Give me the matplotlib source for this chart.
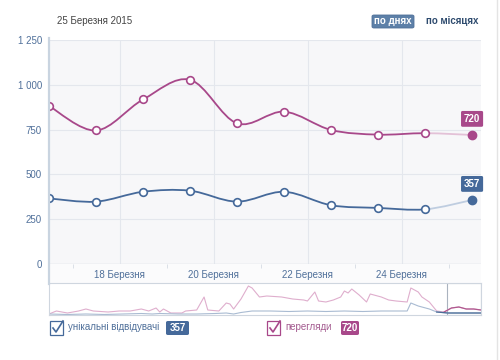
import numpy as np
import matplotlib
matplotlib.use("Agg")
import matplotlib.pyplot as plt
from matplotlib.path import Path
from matplotlib.patches import PathPatch, Rectangle, FancyBboxPatch
from matplotlib.lines import Line2D

plt.rcParams["font.family"] = ["Liberation Sans", "DejaVu Sans"]

# main chart: one point per day, x = day index (0 = 16 Березня)
days = np.arange(10)
views = [882, 745, 918, 1028, 785, 850, 748, 722, 730, 720]
visitors = [366, 348, 403, 409, 348, 403, 328, 313, 305, 357]
tick_pos = [1.5, 3.5, 5.5, 7.5]
tick_labels = ["18 Березня", "20 Березня", "22 Березня", "24 Березня"]
y_ticks = [0, 250, 500, 750, 1000, 1250]
y_labels = ["0", "250", "500", "750", "1 000", "1 250"]

# navigator (overview of the whole period)
nav_days_v = [0, 2, 5, 8, 10, 12, 16, 19, 22, 25, 27, 29, 30, 31, 33, 36, 37, 40, 42, 43,
              46, 48, 49, 50, 52, 54, 55, 57, 59, 63, 66, 69, 70, 72, 73, 75, 77, 79, 80,
              81, 82, 84, 86, 87, 90, 92, 94, 97, 98, 100, 101, 103, 105, 107, 109, 111,
              113, 115, 117]
nav_views = [120, 480, 240, 480, 720, 480, 360, 480, 480, 720, 480, 840, 360, 720, 240, 240,
             480, 600, 2160, 600, 480, 1440, 1320, 720, 1920, 3480, 3240, 2160, 2280, 2160,
             1920, 1800, 1680, 2760, 1680, 1560, 1800, 2160, 2880, 2640, 3120, 2400, 1560,
             2520, 2160, 1800, 1680, 1560, 3240, 2760, 2160, 1560, 480, 360, 840, 960, 720,
             720, 600]
nav_days_u = [0, 5, 10, 15, 20, 25, 28, 30, 35, 40, 45, 48, 50, 52, 55, 60, 65, 70, 75, 80,
              85, 90, 95, 97, 98, 100, 103, 105, 108, 112, 117]
nav_visitors = [120, 60, 120, 60, 120, 180, 120, 180, 120, 120, 180, 240, 120, 300, 480, 480,
                420, 480, 420, 480, 420, 480, 480, 480, 1440, 1080, 720, 360, 240, 240, 240]
nav_sel = (107.8, 117)

PINK = "#a8488a"
BLUE = "#45699a"
PINK_L = "#e3c1d7"
BLUE_L = "#bfcde0"
TXT = "#50709a"

W, H = 500, 360


def fx(px):
    return px / W


def fy(py):
    return 1 - py / H


def smooth_verts(x, y):
    # Catmull-Rom through the points, as cubic Bezier control points
    x = np.asarray(x, float)
    y = np.asarray(y, float)
    n = len(x)
    verts = [(x[0], y[0])]
    for i in range(n - 1):
        i0 = max(i - 1, 0)
        i3 = min(i + 2, n - 1)
        c1 = (x[i] + (x[i + 1] - x[i0]) / 6, y[i] + (y[i + 1] - y[i0]) / 6)
        c2 = (x[i + 1] - (x[i3] - x[i]) / 6, y[i + 1] - (y[i3] - y[i]) / 6)
        verts += [c1, c2, (x[i + 1], y[i + 1])]
    return np.array(verts)


def bez(verts):
    return Path(verts, [Path.MOVETO] + [Path.CURVE4] * (len(verts) - 1))


fig = plt.figure(figsize=(5, 3.6), dpi=100)
fig.patch.set_facecolor("white")

ax = fig.add_axes([fx(49), fy(264), fx(481) - fx(49), fy(40) - fy(264)])
ax.set_facecolor("#f7f7f9")
ax.set_xlim(0, 9.19)
ax.set_ylim(0, 1250)
for s in ax.spines.values():
    s.set_visible(False)
ax.set_yticks(y_ticks)
ax.set_yticklabels(y_labels)
ax.set_xticks(tick_pos)
ax.set_xticklabels(tick_labels)
ax.set_xticks(np.arange(0.5, 9.2, 1), minor=True)
ax.tick_params(axis="y", length=0, pad=5, labelsize=7, labelcolor=TXT)
ax.tick_params(axis="x", which="major", length=0, pad=4, labelsize=7, labelcolor=TXT)
ax.tick_params(axis="x", which="minor", length=3, direction="out", color="#d5dbe3")
ax.grid(True, color="#e4e7ed", linewidth=0.8)
ax.set_axisbelow(True)
ax.axhline(0, color="#dde1e8", linewidth=1)

# strip under the plot that holds the date labels
fig.patches.append(Rectangle((fx(49), fy(283)), fx(481) - fx(49), fy(264) - fy(283),
                             transform=fig.transFigure, facecolor="#fbfbfc",
                             edgecolor="none", zorder=-1))
fig.lines.append(Line2D([fx(49), fx(49)], [fy(38), fy(284)], transform=fig.transFigure,
                        color="#c9d4e0", linewidth=1.6))
fig.lines.append(Line2D([fx(497), fx(497)], [0, 1], transform=fig.transFigure,
                        color="#e4e4e4", linewidth=1))

for vals, col, col_l in [(views, PINK, PINK_L), (visitors, BLUE, BLUE_L)]:
    v = smooth_verts(days, vals)
    ax.add_patch(PathPatch(bez(v[:25]), facecolor="none", edgecolor=col,
                           linewidth=1.3, zorder=3))
    ax.add_patch(PathPatch(bez(v[24:]), facecolor="none", edgecolor=col_l,
                           linewidth=1.3, zorder=3))
    ax.plot(days[:9], vals[:9], "o", ms=5.5, mfc="white", mec=col, mew=1.2, zorder=4)
    ax.plot(days[9], vals[9], "o", ms=6, mfc=col, mec=col, zorder=4)
    ax.annotate(str(vals[9]), (days[9], vals[9]), xytext=(0, 8), textcoords="offset points",
                ha="center", va="bottom", color="white", fontsize=7, fontweight="bold",
                bbox=dict(boxstyle="round,pad=0.3,rounding_size=0.15", fc=col, ec="none"),
                zorder=5)

# navigator
nav = fig.add_axes([fx(49), fy(315), fx(481) - fx(49), fy(283) - fy(315)])
nav.set_facecolor("white")
nav.set_xlim(0, 117)
nav.set_ylim(0, 3840)
nav.set_xticks([])
nav.set_yticks([])
for s in nav.spines.values():
    s.set_color("#cfd6df")
    s.set_linewidth(0.8)
nav.plot(nav_days_v, nav_views, color="#dfaecd", linewidth=0.8)
nav.plot(nav_days_u, nav_visitors, color="#a9bbd2", linewidth=0.8)
nav.axvspan(nav_sel[0], nav_sel[1], facecolor="none", edgecolor="#aab3bf", linewidth=0.8)
dv = np.array(nav_days_v)
du = np.array(nav_days_u)
mv = dv >= 107
mu = du >= 105
nav.plot(dv[mv], np.array(nav_views)[mv], color="#b0598f", linewidth=0.9)
nav.plot(du[mu], np.array(nav_visitors)[mu], color="#4a6b97", linewidth=0.9)

# header
fig.text(fx(57), fy(21), "25 Березня 2015", fontsize=7, color="#444444", va="center")
fig.patches.append(FancyBboxPatch((fx(372), fy(28)), fx(42), fy(15) - fy(28),
                                  boxstyle="round,pad=0,rounding_size=0.004",
                                  transform=fig.transFigure, fc="#5d80a8", ec="#4f7099",
                                  linewidth=0.6))
fig.text(fx(393), fy(21.5), "по днях", fontsize=7, color="white", fontweight="bold",
         ha="center", va="center")
fig.text(fx(452), fy(21.5), "по місяцях", fontsize=7, color="#2e4b6e", fontweight="bold",
         ha="center", va="center")

# legend
for x0, col, label, tcol, bx, bw, val in [(50, BLUE, "унікальні відвідувачі", TXT, 166, 23, visitors[-1]),
                                          (267, PINK, "перегляди", "#a35a8f", 341, 18, views[-1])]:
    fig.patches.append(Rectangle((fx(x0), fy(335)), fx(13), fy(321) - fy(335),
                                 transform=fig.transFigure, fc="white", ec=col, lw=0.9))
    fig.lines.append(Line2D([fx(x0 + 3), fx(x0 + 6), fx(x0 + 13)],
                            [fy(328), fy(332), fy(321)], transform=fig.transFigure,
                            color=col, linewidth=1.2))
    fig.text(fx(x0 + 18), fy(327.5), label, fontsize=7, color=tcol, va="center")
    fig.patches.append(FancyBboxPatch((fx(bx), fy(335)), fx(bw), fy(321) - fy(335),
                                      boxstyle="round,pad=0,rounding_size=0.004",
                                      transform=fig.transFigure, fc=col, ec="none"))
    fig.text(fx(bx + bw / 2), fy(328), str(val), fontsize=7, color="white",
             fontweight="bold", ha="center", va="center")

fig.savefig("out.png", dpi=100)
